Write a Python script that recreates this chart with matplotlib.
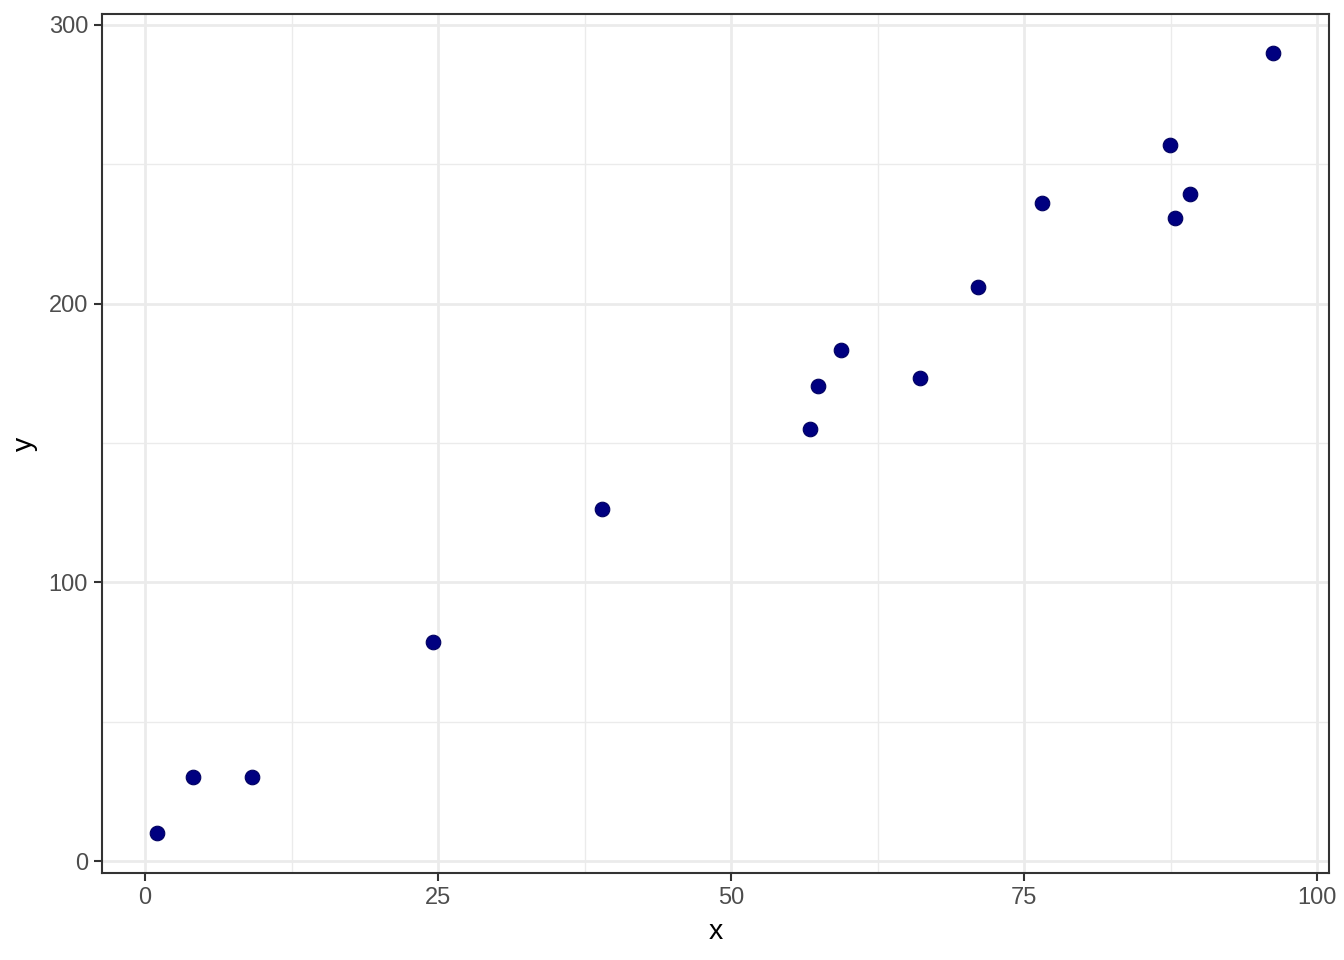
import matplotlib
matplotlib.use("Agg")
import matplotlib.pyplot as plt
from matplotlib.ticker import MultipleLocator

x = [1.0, 4.1, 9.1, 24.6, 39.0, 56.7, 57.4, 59.4, 66.1, 71.1, 76.5, 87.4, 87.9, 89.1, 96.2]
y = [10, 30, 30, 78.6, 126.3, 155, 170.4, 183.4, 173.3, 206, 236.1, 256.9, 230.7, 239.3, 289.9]
x_ticks = [0, 25, 50, 75, 100]
y_ticks = [0, 100, 200, 300]

plt.rcParams['font.family'] = ['Liberation Sans', 'DejaVu Sans']
fig = plt.figure(figsize=(13.44, 9.6), dpi=100)
ax = fig.add_axes([102/1344, 1-873/960, (1329-102)/1344, (873-14)/960])

ax.scatter(x, y, s=110, color='#000080', edgecolors='#000060', linewidths=0.8, zorder=3)

ax.set_xlim(-3.67, 101.0)
ax.set_ylim(-4.3, 303.9)
ax.set_xticks(x_ticks)
ax.set_yticks(y_ticks)
ax.xaxis.set_minor_locator(MultipleLocator(12.5))
ax.yaxis.set_minor_locator(MultipleLocator(50))
ax.grid(True, which='major', color='#EBEBEB', linewidth=2.0, zorder=0)
ax.grid(True, which='minor', color='#EBEBEB', linewidth=1.0, zorder=0)
ax.set_axisbelow(True)
ax.tick_params(which='major', length=6, width=1.5, color='#333333', labelcolor='#4D4D4D', labelsize=17, pad=4)
ax.tick_params(which='minor', length=0)
for s in ax.spines.values():
    s.set_color('#333333')
    s.set_linewidth(1.5)
ax.set_xlabel('x', fontsize=20.5, color='black', labelpad=7)
ax.set_ylabel('y', fontsize=20.5, color='black', labelpad=8)

fig.savefig('out.png', dpi=100, facecolor='white')
